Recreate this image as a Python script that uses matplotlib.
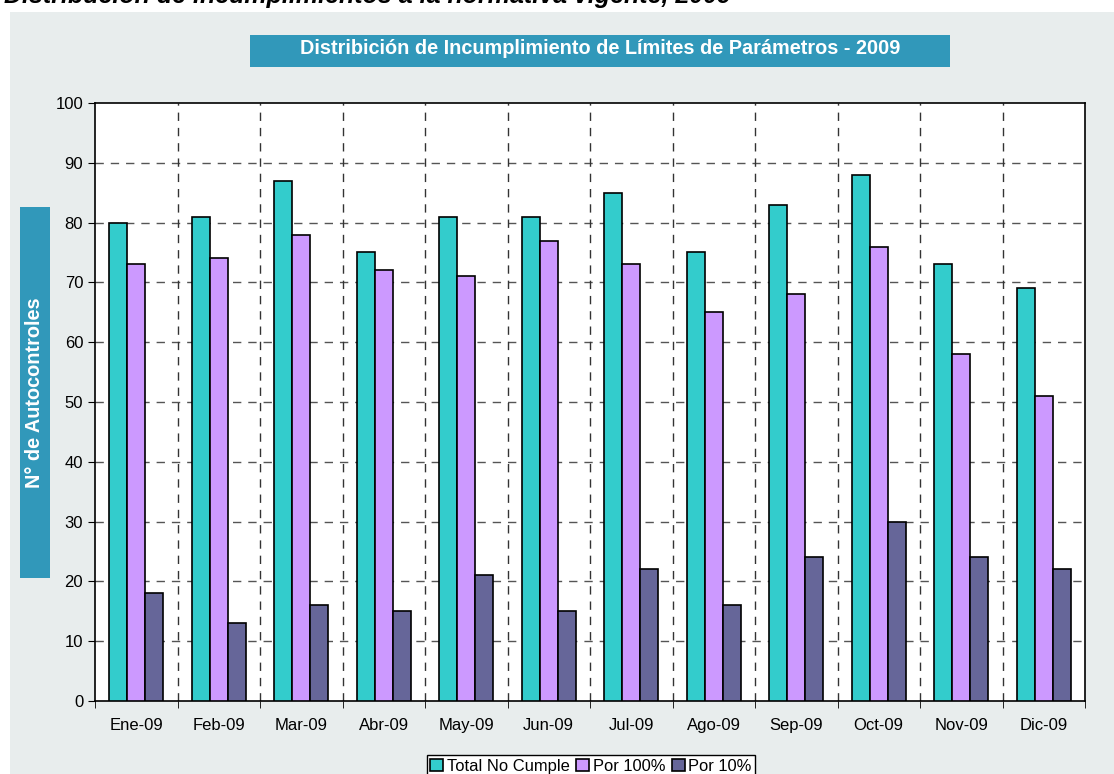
import matplotlib.pyplot as plt
import numpy as np
from matplotlib.patches import Rectangle

plt.rcParams['font.family'] = ['Liberation Sans', 'DejaVu Sans']

meses = ['Ene-09', 'Feb-09', 'Mar-09', 'Abr-09', 'May-09', 'Jun-09',
         'Jul-09', 'Ago-09', 'Sep-09', 'Oct-09', 'Nov-09', 'Dic-09']
total_no_cumple = [80, 81, 87, 75, 81, 81, 85, 75, 83, 88, 73, 69]
por_100 = [73, 74, 78, 72, 71, 77, 73, 65, 68, 76, 58, 51]
por_10 = [18, 13, 16, 15, 21, 15, 22, 16, 24, 30, 24, 22]

fig = plt.figure(figsize=(11.14, 7.74), dpi=100)
fig.patch.set_facecolor('white')

# fondo gris del grafico
fig.patches.append(Rectangle((10 / 1114, 0), 1, (774 - 12) / 774, transform=fig.transFigure,
                             facecolor='#E8EDED', edgecolor='none', zorder=-10))

# titulo cortado arriba
fig.text(0.004, 1 - 3 / 774, 'Distribución de incumplimientos a la normativa vigente, 2009',
         fontsize=18, fontweight='bold', style='italic', va='baseline', ha='left')

ax = fig.add_axes([95 / 1114, (774 - 701) / 774, 990 / 1114, 598 / 774])
ax.set_facecolor('white')

x = np.arange(len(meses))
w = 0.22
ax.bar(x - w, total_no_cumple, w, color='#33CCCC', edgecolor='black', linewidth=1.2, label='Total No Cumple', zorder=3)
ax.bar(x, por_100, w, color='#CC99FF', edgecolor='black', linewidth=1.2, label='Por 100%', zorder=3)
ax.bar(x + w, por_10, w, color='#666699', edgecolor='black', linewidth=1.2, label='Por 10%', zorder=3)

ax.set_xlim(-0.5, len(meses) - 0.5)
ax.set_ylim(0, 100)
ax.set_yticks(range(0, 101, 10))
ax.set_xticks(x)
ax.set_xticklabels(meses)
ax.set_xticks(np.arange(-0.5, len(meses), 1), minor=True)
ax.tick_params(axis='x', which='major', length=0, pad=12, labelsize=12)
ax.tick_params(axis='x', which='minor', length=5, direction='out')
ax.tick_params(axis='y', length=5, labelsize=12)

for yv in range(10, 100, 10):
    ax.axhline(yv, color='#555555', linestyle=(0, (6, 5)), linewidth=1, zorder=1)
for xv in np.arange(0.5, len(meses) - 1, 1):
    ax.axvline(xv, color='#333333', linestyle=(0, (6, 5)), linewidth=1, zorder=1)

for s in ax.spines.values():
    s.set_linewidth(1.2)

# caja del titulo
fig.patches.append(Rectangle((250 / 1114, (774 - 67) / 774), 700 / 1114, 32 / 774,
                             transform=fig.transFigure, facecolor='#3198BA', edgecolor='none'))
fig.text(600 / 1114, (774 - 49) / 774, 'Distribición de Incumplimiento de Límites de Parámetros - 2009',
         color='white', fontsize=14.3, fontweight='bold', ha='center', va='center')

# caja etiqueta eje y
fig.patches.append(Rectangle((20 / 1114, (774 - 578) / 774), 30 / 1114, 371 / 774,
                             transform=fig.transFigure, facecolor='#3198BA', edgecolor='none'))
fig.text(35 / 1114, (774 - 393) / 774, 'N° de Autocontroles', color='white', fontsize=14.3,
         fontweight='bold', rotation=90, ha='center', va='center')

leg = fig.legend(loc='lower center', bbox_to_anchor=(591 / 1114, -3 / 774), ncol=3, fontsize=11.9,
                 frameon=True, fancybox=False, edgecolor='black', framealpha=1,
                 handlelength=0.8, handleheight=0.8, handletextpad=0.2, columnspacing=0.4,
                 borderpad=0.2, borderaxespad=0)
leg.get_frame().set_linewidth(1)

fig.savefig('out.png', dpi=100)
